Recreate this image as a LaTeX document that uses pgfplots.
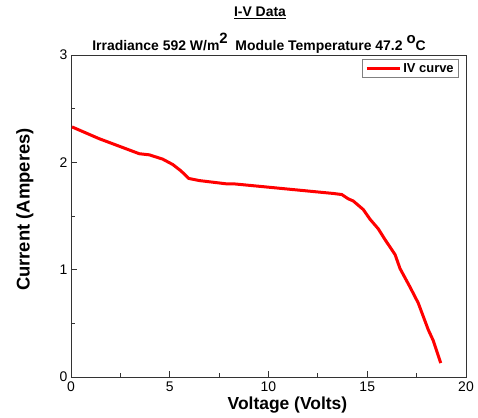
\documentclass[border=0pt]{standalone}
\usepackage{pgfplots}
\pgfplotsset{compat=1.18}
\usepackage{fontspec}
\setmainfont{Liberation Sans}
\pgfplotstableread{
V I
0.05 2.33
1.43 2.22
3.46 2.08
3.96 2.07
4.64 2.03
5.15 1.98
5.57 1.92
5.96 1.85
6.50 1.83
7.85 1.80
8.22 1.80
9.91 1.77
11.59 1.74
13.28 1.71
13.71 1.70
14.04 1.66
14.29 1.64
14.80 1.56
15.14 1.47
15.56 1.38
15.90 1.28
16.41 1.14
16.66 1.01
17.16 0.84
17.58 0.69
18.09 0.44
18.34 0.34
18.72 0.13
}\ivdata
\begin{document}
\begin{tikzpicture}
\path[use as bounding box] (-71bp,-41bp) rectangle (407bp,377bp);
\begin{axis}[
  scale only axis,
  width=395bp, height=322bp,
  xmin=0, xmax=20, ymin=0, ymax=3,
  xtick={0,5,10,15,20}, ytick={0,1,2,3},
  minor x tick num=1, minor y tick num=1,
  tick pos=left, tick align=inside,
  major tick length=6bp, minor tick length=4bp,
  axis line style={line width=0.8bp, black!80},
  every tick/.style={black!80, line width=0.8bp},
  /pgf/number format/assume math mode=true,
  ticklabel style={font=\fontsize{14}{16}\selectfont},
  xlabel={Voltage (Volts)}, ylabel={Current (Amperes)},
  xlabel style={at={(axis description cs:0.548,-0.087)}, anchor=center, font=\bfseries\fontsize{17.5}{19}\selectfont},
  ylabel style={at={(axis description cs:-0.1165,0.52)}, anchor=center, font=\bfseries\fontsize{18.5}{20}\selectfont},
  xticklabel style={yshift=-1bp},
  legend style={at={(rel axis cs:1,1)}, anchor=north east, xshift=-7bp, yshift=-4bp,
    draw=gray, line width=0.6bp, font=\bfseries\fontsize{13}{15}\selectfont,
    inner xsep=3bp, inner ysep=2bp},
  legend image code/.code={\draw[#1] (0bp,0bp) -- (33bp,0bp);},
]
\addplot[red, line width=3bp, line join=round] table[x=V,y=I] {\ivdata};
\addlegendentry{IV curve}
\end{axis}
\node[font=\bfseries\fontsize{14}{16}\selectfont] at (189bp,364bp) {\underline{I-V Data}};
\node[font=\bfseries\fontsize{14}{16}\selectfont] at (188bp,334bp) {Irradiance 592 W/m\raisebox{7bp}{\fontsize{15}{17}\selectfont 2}\ \ Module Temperature 47.2 \raisebox{7bp}{\fontsize{15}{17}\selectfont o}C};
\end{tikzpicture}
\end{document}
